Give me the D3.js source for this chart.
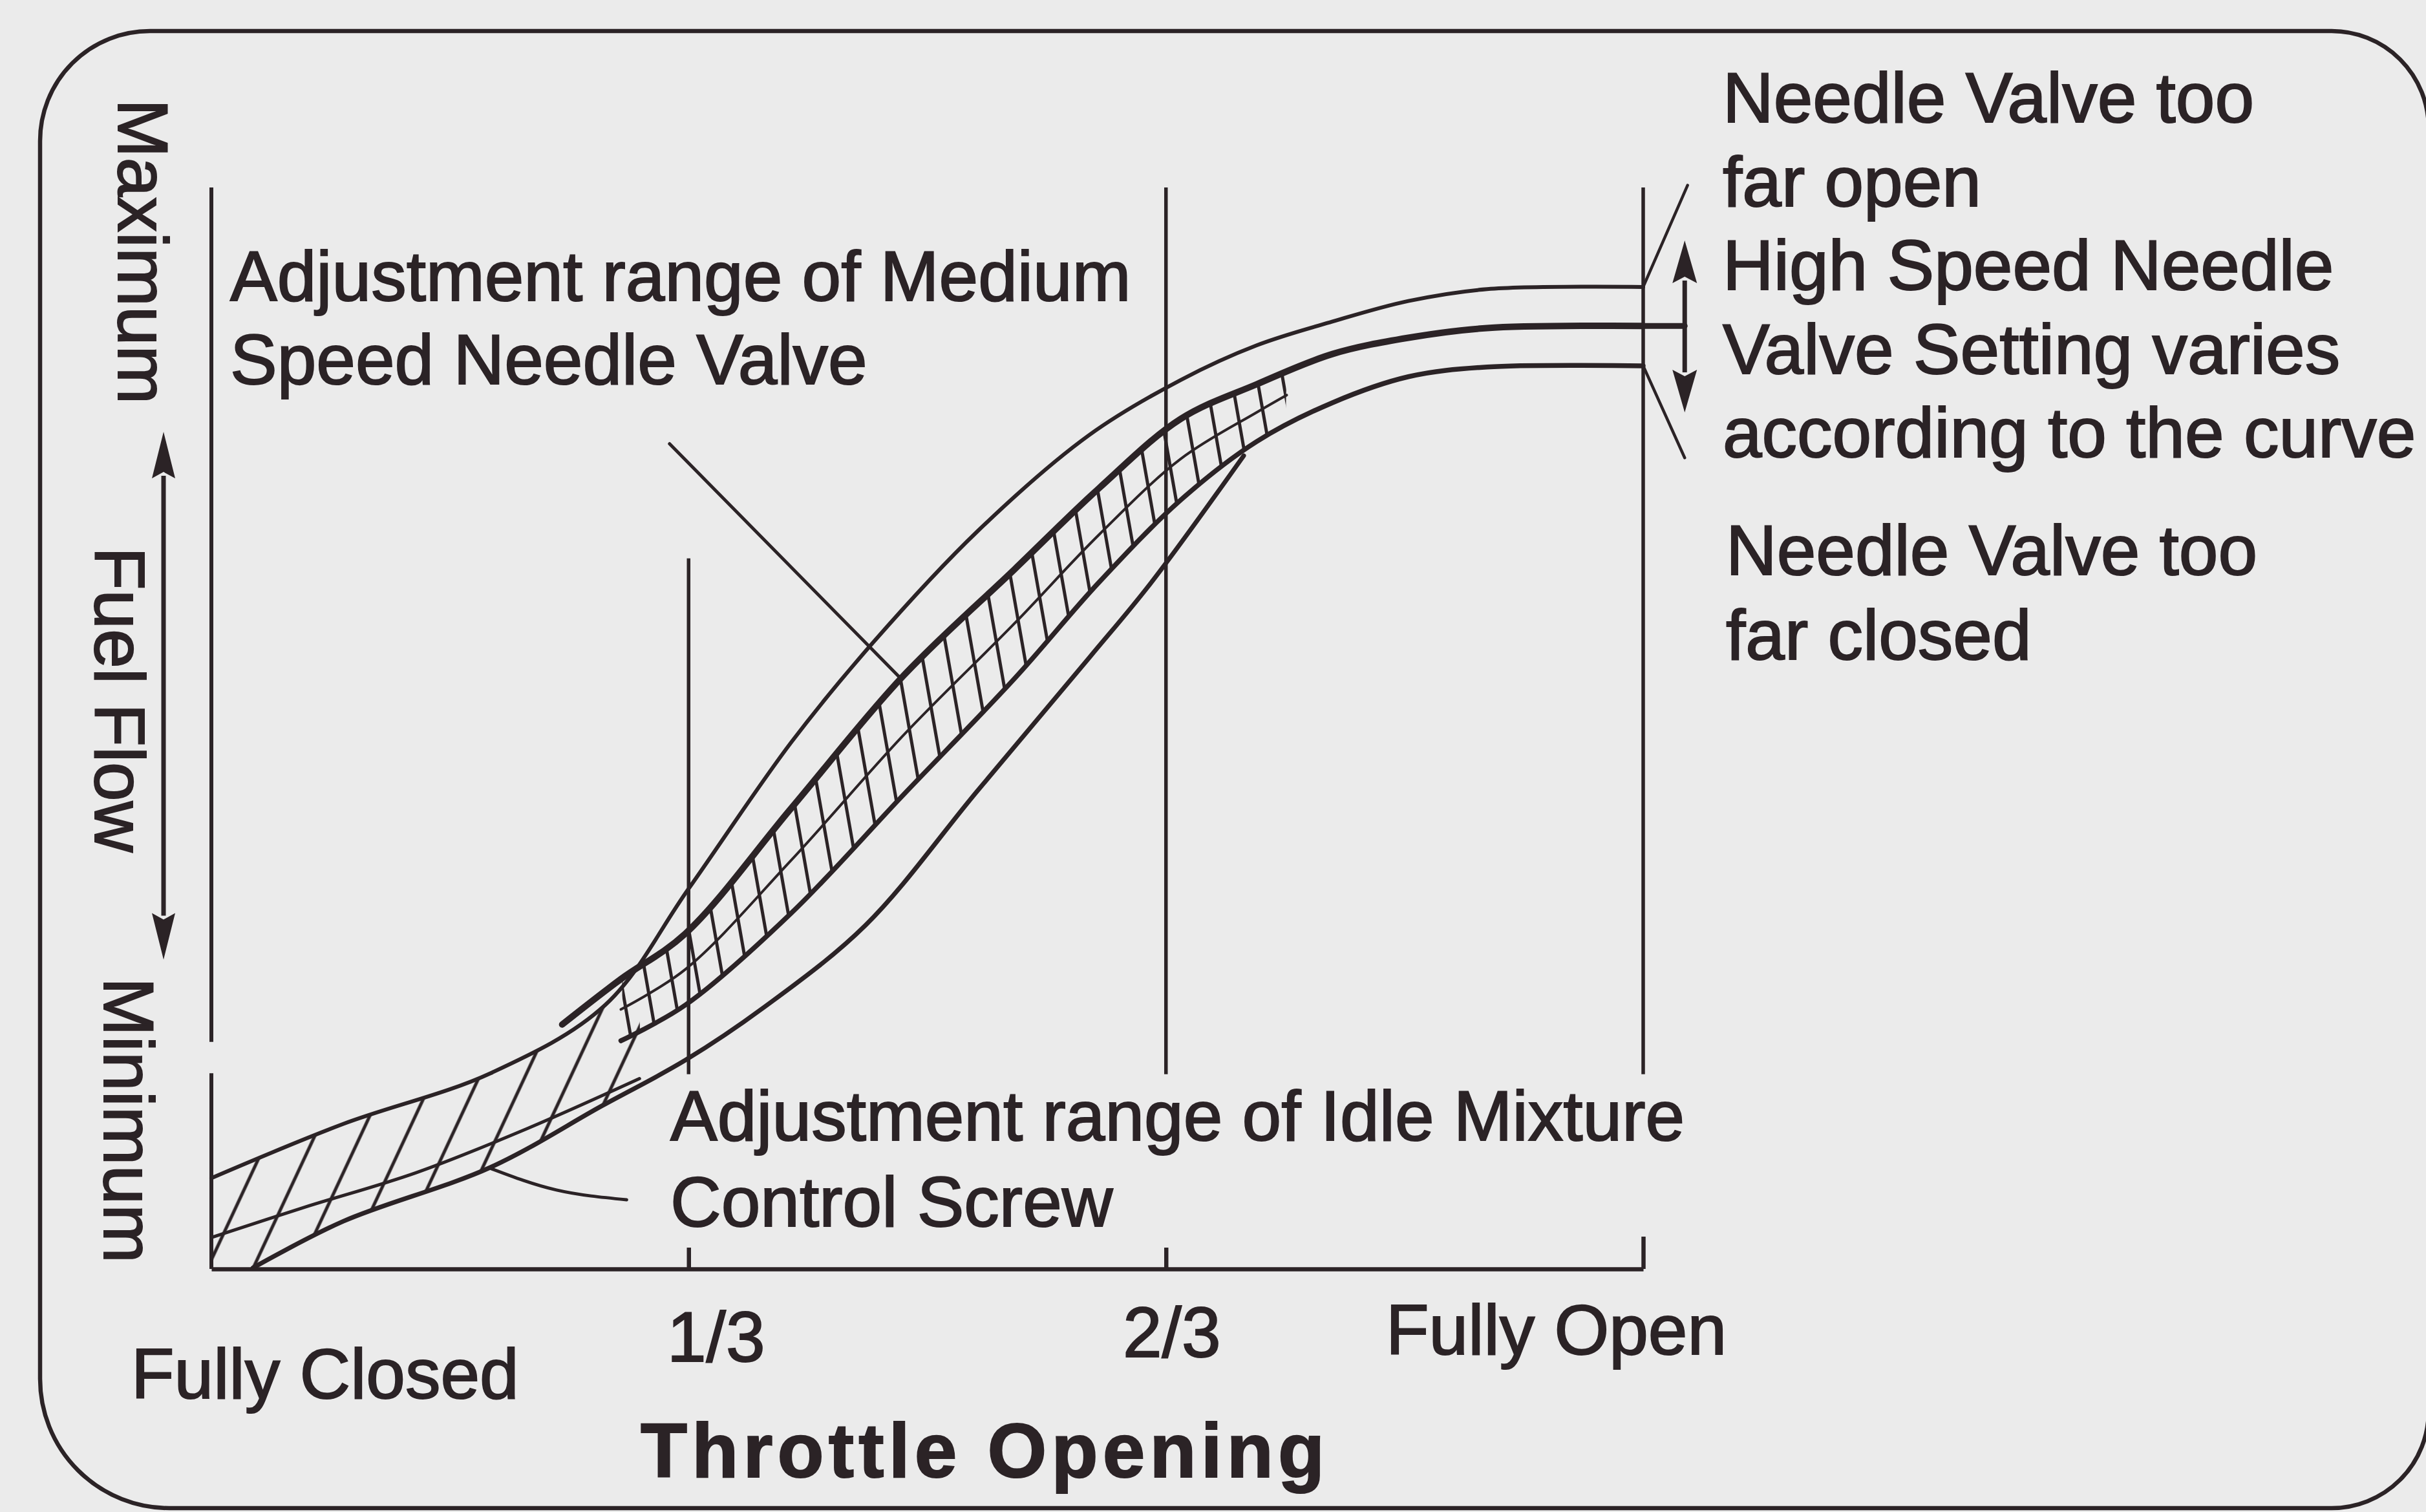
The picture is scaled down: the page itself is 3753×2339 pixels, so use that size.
<!DOCTYPE html>
<html>
<head>
<meta charset="utf-8">
<script src="https://cdn.jsdelivr.net/npm/d3@7"></script>
<style>
  html, body { margin: 0; padding: 0; background: #ebebeb; }
  svg { display: block; }
</style>
</head>
<body>
<svg id="chart" width="3753" height="2339"></svg>
<script>
// ---- Data: throttle opening (% of travel) vs fuel flow (% of maximum) ----
const throttleTicks = [33.33, 66.67, 100];
const throttleTickLabels = ["1/3", "2/3", "Fully Open"];
const closedLabel = "Fully Closed";

// Needle valve too far open (upper limit of the mixture curve)
const richLimit = [[0, 8.4], [9.2, 13.4], [19.5, 18.1], [27.5, 24.4], [33.3, 35.1], [40.5, 48.7],
  [46.2, 57.9], [53.5, 68.2], [61.3, 77.1], [67.7, 82.2], [73.0, 85.4], [78.3, 87.6],
  [83.6, 89.5], [89.1, 90.6], [100, 90.8]];
// Correct high speed needle setting (upper edge of the medium speed band)
const highSpeedSetting = [[24.5, 22.6], [28.6, 26.8], [33.1, 31.0], [40.5, 42.6], [48.3, 54.8],
  [56.1, 64.7], [62.0, 72.2], [67.7, 78.6], [73.0, 81.8], [78.3, 84.6], [83.6, 86.1],
  [89.1, 87.0], [100, 87.2]];
// Lower edge of the medium speed band, ending at "too far closed"
const leanLimit = [[28.6, 21.1], [33.1, 24.4], [40.5, 32.9], [48.3, 43.8], [56.1, 54.6],
  [62.0, 63.5], [67.7, 71.1], [73.0, 76.5], [78.3, 80.1], [83.6, 82.5], [89.1, 83.4], [100, 83.5]];
// Centre line of the medium speed band
const bandCentre = [[28.6, 24.0], [33.1, 27.7], [40.5, 37.8], [48.3, 49.3], [56.1, 59.7],
  [62.0, 67.9], [67.7, 74.9], [73.0, 79.2], [75.1, 80.8]];
// Lower edge of the idle mixture band
const idleLower = [[2.9, 0.1], [9.2, 4.4], [19.5, 9.4], [27.3, 15.1], [33.1, 19.3], [38.5, 24.1],
  [45.7, 31.8], [53.5, 44.2], [61.3, 56.5], [65.6, 63.4], [72.1, 75.2]];
// Centre line of the idle mixture band
const idleCentre = [[0, 2.9], [6.5, 5.7], [14.3, 8.9], [22.1, 13.0], [29.9, 17.6]];

// Annotation geometry (same units)
const fuelArrow = {t: -3.34, from: 28.6, to: 77.4};
const highSpeedArrow = {t: 102.9, from: 79.2, to: 95.1};
const highSpeedTail = [[100, 87.2], [102.9, 87.2]];
const richPointer = [[100, 90.8], [103.1, 100.2]];
const leanPointer = [[100, 83.5], [102.9, 75.0]];
const mediumLeader = [[32.0, 76.3], [48.0, 54.8]];
const idleLeader = [[19.5, 9.3], [24.1, 7.3], [29.0, 6.4]];
const guideLines = [{t: 33.33, top: 65.7}, {t: 66.67, top: 100}, {t: 100, top: 100}];
const guideBottom = 18.0;
const yAxisRuns = [[0, 18.1], [21.0, 100]];

// ---- Layout ----
const W = 3753, H = 2339;
const ink = "#2b2326";
const font = "'Liberation Sans', Arial, Helvetica, sans-serif";
const fs = 109;

const svg = d3.select("#chart");
const x = d3.scaleLinear().domain([0, 100]).range([327, 2542]);
const y = d3.scaleLinear().domain([0, 100]).range([1963, 290]);

svg.append("rect").attr("width", W).attr("height", H).attr("fill", "#ebebeb");

// Rounded frame
(function frame() {
  const L = 62, T = 48, R = 3757, B = 2333;
  const rtl = 170, rbl = 200, rtr = 150, rbr = 150;
  const d = `M${L + rtl},${T} H${R - rtr} A${rtr},${rtr} 0 0 1 ${R},${T + rtr} V${B - rbr}` +
    ` A${rbr},${rbr} 0 0 1 ${R - rbr},${B} H${L + rbl} A${rbl},${rbl} 0 0 1 ${L},${B - rbl}` +
    ` V${T + rtl} A${rtl},${rtl} 0 0 1 ${L + rtl},${T} Z`;
  svg.append("path").attr("d", d).attr("fill", "none").attr("stroke", ink).attr("stroke-width", 6.5);
})();

const defs = svg.append("defs");
function hatch(id, spacing, angle, sw) {
  const p = defs.append("pattern").attr("id", id).attr("patternUnits", "userSpaceOnUse")
    .attr("width", spacing).attr("height", spacing)
    .attr("patternTransform", `rotate(${angle})`);
  p.append("line").attr("x1", spacing / 2).attr("x2", spacing / 2)
    .attr("y1", -2).attr("y2", spacing + 2).attr("stroke", ink).attr("stroke-width", sw);
}
hatch("idleHatch", 64, 25, 5);
hatch("rungs", 39, -10, 5);

const line = d3.line().x(d => x(d[0])).y(d => y(d[1])).curve(d3.curveCatmullRom.alpha(0.5));
const straight = d3.line().x(d => x(d[0])).y(d => y(d[1]));

const hatchLayer = svg.append("g");
const curveLayer = svg.append("g").attr("fill", "none").attr("stroke", ink)
  .attr("stroke-linecap", "round").attr("stroke-linejoin", "round");

function curve(data, sw) {
  return curveLayer.append("path").datum(data).attr("d", line).attr("stroke-width", sw);
}

const pRich = curve(richLimit, 6);
const pIdleLower = curve(idleLower, 7);
const pIdleCentre = curve(idleCentre, 5);
const pLean = curve(leanLimit, 7.5);
const pCentre = curve(bandCentre, 4);
const pSetting = curve(highSpeedSetting, 10);

function sample(sel, n = 800) {
  const node = sel.node(), L = node.getTotalLength();
  return d3.range(n + 1).map(i => { const p = node.getPointAtLength(L * i / n); return [p.x, p.y]; });
}
function band(upper, lower, x0, x1, extra = []) {
  const up = upper.filter(p => p[0] >= x0 && p[0] <= x1);
  const lo = lower.filter(p => p[0] >= x0 && p[0] <= x1).reverse();
  return "M" + up.concat(lo, extra).map(p => p.join(",")).join("L") + "Z";
}
const sRich = sample(pRich), sIdleLower = sample(pIdleLower);
const sSetting = sample(pSetting), sLean = sample(pLean);

// Idle mixture band: diagonal hatching between the rich limit and the idle lower edge
hatchLayer.append("path")
  .attr("d", band(sRich, sIdleLower, x(0), x(30), [[x(0), y(0)]]))
  .attr("fill", "url(#idleHatch)");
// Medium speed band: ladder rungs between the setting curve and the lower edge
hatchLayer.append("path")
  .attr("d", band(sSetting, sLean, x(28.6), x(75.1)))
  .attr("fill", "url(#rungs)");

// Axes
const xAxis = d3.axisBottom(x).tickValues(throttleTicks).tickFormat("")
  .tickSizeInner(-33).tickSizeOuter(0);
const gx = svg.append("g").attr("transform", `translate(0,${y(0)})`).call(xAxis);
gx.selectAll("path, line").attr("stroke", ink).attr("stroke-width", 6.5);
gx.selectAll(".tick line").filter(d => d === 100).attr("y2", -50);

svg.append("g").selectAll("line").data(yAxisRuns).join("line")
  .attr("x1", x(0)).attr("x2", x(0)).attr("y1", d => y(d[0])).attr("y2", d => y(d[1]))
  .attr("stroke", ink).attr("stroke-width", 6);

// Throttle guide lines
svg.append("g").selectAll("line").data(guideLines).join("line")
  .attr("x1", d => x(d.t)).attr("x2", d => x(d.t))
  .attr("y1", d => y(d.top)).attr("y2", y(guideBottom))
  .attr("stroke", ink).attr("stroke-width", 5.5);

// Pointers and leaders
const ann = svg.append("g").attr("fill", "none").attr("stroke", ink).attr("stroke-linecap", "round");
ann.append("path").datum(highSpeedTail).attr("d", straight).attr("stroke-width", 9);
ann.append("path").datum(richPointer).attr("d", straight).attr("stroke-width", 4.5);
ann.append("path").datum(leanPointer).attr("d", straight).attr("stroke-width", 4.5);
ann.append("path").datum(mediumLeader).attr("d", straight).attr("stroke-width", 5);
ann.append("path").datum(idleLeader).attr("d", d3.line().x(d => x(d[0])).y(d => y(d[1])).curve(d3.curveNatural))
  .attr("stroke-width", 5);

// Double-headed arrows
function doubleArrow(a, hw, len) {
  const cx = x(a.t), top = y(a.to), bot = y(a.from);
  const g = svg.append("g");
  g.append("line").attr("x1", cx).attr("x2", cx).attr("y1", top + len - 4).attr("y2", bot - len + 4)
    .attr("stroke", ink).attr("stroke-width", 7);
  g.append("path").attr("fill", ink)
    .attr("d", `M${cx},${top} L${cx - hw},${top + len} L${cx},${top + len - 10} L${cx + hw},${top + len} Z`);
  g.append("path").attr("fill", ink)
    .attr("d", `M${cx},${bot} L${cx - hw},${bot - len} L${cx},${bot - len + 10} L${cx + hw},${bot - len} Z`);
}
doubleArrow(fuelArrow, 18, 72);
doubleArrow(highSpeedArrow, 19, 66);

// ---- Text ----
const txt = svg.append("g").attr("fill", ink).attr("stroke", ink).attr("stroke-width", 2)
  .attr("font-family", font).attr("font-size", fs);
function block(lines, x0, y0, dy) {
  lines.forEach((s, i) => txt.append("text").attr("x", x0).attr("y", y0 + i * dy).text(s));
}
block(["Adjustment range of Medium", "Speed Needle Valve"], 356, 465, 129);
block(["Needle Valve too", "far open", "High Speed Needle", "Valve Setting varies", "according to the curve"], 2665, 189, 129.5);
block(["Needle Valve too", "far closed"], 2670, 889, 131);
block(["Adjustment range of Idle Mixture", "Control Screw"], 1037, 1764, 133);

// Throttle labels
const tickLabelPos = [{x: 1032, y: 2106}, {x: 1737, y: 2099}, {x: 2144, y: 2095}];
txt.selectAll("text.tl").data(throttleTicks).join("text").attr("class", "tl")
  .attr("x", (d, i) => tickLabelPos[i].x).attr("y", (d, i) => tickLabelPos[i].y)
  .text((d, i) => throttleTickLabels[i]);
txt.append("text").attr("x", 203).attr("y", 2163).text(closedLabel);
txt.append("text").attr("x", 991).attr("y", 2285).attr("font-weight", "bold")
  .attr("font-size", 118).attr("textLength", 1058).attr("lengthAdjust", "spacing")
  .text("Throttle Opening");

// Fuel flow labels, read top to bottom
[["Maximum", 183, 153], ["Fuel Flow", 147, 846], ["Minimum", 161, 1512]].forEach(([s, tx, ty]) => {
  txt.append("text").attr("transform", `translate(${tx},${ty}) rotate(90)`).text(s);
});
</script>
</body>
</html>
